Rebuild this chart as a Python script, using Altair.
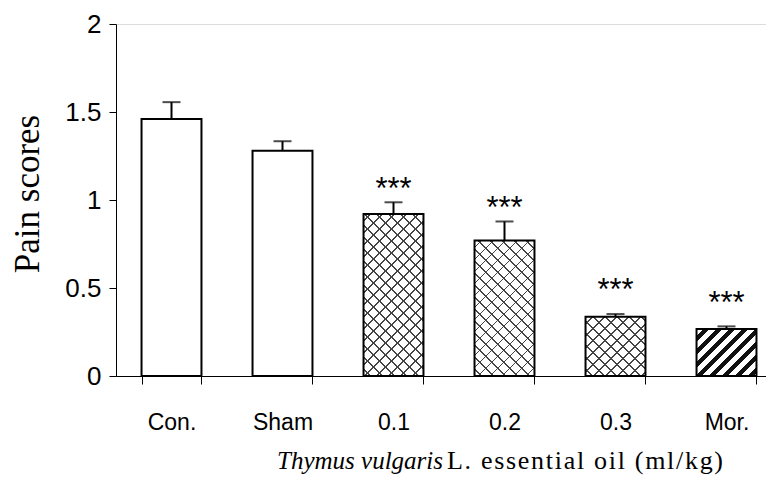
import altair as alt
import pandas as pd

# ---- data ----
categories = ["Con.", "Sham", "0.1", "0.2", "0.3", "Mor."]
means = [1.46, 1.28, 0.92, 0.77, 0.337, 0.267]
sems = [0.096, 0.054, 0.067, 0.108, 0.015, 0.015]
patterns = ["plain", "plain", "cross", "cross", "cross", "stripe"]
stars = ["", "", "***", "***", "***", "***"]
star_levels = [None, None, 1.104, 0.994, 0.528, 0.456]

df = pd.DataFrame({
    "cat": categories,
    "mean": means,
    "top": [m + s for m, s in zip(means, sems)],
    "pattern": patterns,
    "star": stars,
    "star_y": star_levels,
})

# ---- geometry / style ----
PLOT_W = 650
PLOT_H = 352
RANGE_W = 666
PAD_IN = 0.46
PAD_OUT = 0.23
Y_MAX = 2.0
STEP = RANGE_W / (len(categories) - PAD_IN + 2 * PAD_OUT)
BAR_W = STEP * (1 - PAD_IN)

SANS = "Liberation Sans"
SERIF = "Liberation Serif"

x_enc = alt.X(
    "cat:N",
    sort=categories,
    scale=alt.Scale(range=[0, RANGE_W], paddingInner=PAD_IN, paddingOuter=PAD_OUT),
    axis=alt.Axis(
        title=None, labelAngle=0, labelFont=SANS, labelFontSize=23, labelColor="black",
        labelPadding=27, tickBand="extent", tickSize=8, tickColor="black", tickWidth=1,
        domainColor="black", domainWidth=1, grid=False,
    ),
)
y_scale = alt.Scale(domain=[0, Y_MAX], nice=False)
y_axis = alt.Axis(
    title=None, values=[0, 0.5, 1, 1.5, 2], format="~g", labelFont=SANS, labelFontSize=26,
    labelColor="black", labelPadding=8, tickSize=7, tickColor="black", tickWidth=1,
    domainColor="black", domainWidth=1, grid=False,
)


def hatch(W, H, period, lw, color, bg, direction):
    L = W + H
    alpha = L / (W * W + H * H)
    a, b = alpha * W, alpha * H
    if direction == "/":
        x1, y1, x2, y2 = 0, 0, a, b
    else:
        x1, y1, x2, y2 = 0, 1, a, 1 - b
    stops = [alt.GradientStop(color=bg, offset=0)]
    s = period / 2.0
    while s + lw < L:
        o1, o2 = s / L, (s + lw) / L
        stops += [
            alt.GradientStop(color=bg, offset=o1),
            alt.GradientStop(color=color, offset=o1),
            alt.GradientStop(color=color, offset=o2),
            alt.GradientStop(color=bg, offset=o2),
        ]
        s += period
    stops.append(alt.GradientStop(color=bg, offset=1))
    return alt.LinearGradient(gradient="linear", stops=stops, x1=x1, y1=y1, x2=x2, y2=y2)


base = alt.Chart(df)
bar_enc = dict(x=x_enc, y=alt.Y("mean:Q", scale=y_scale, axis=y_axis))

layers = [base.mark_bar(fill="white", strokeWidth=0).encode(**bar_enc)]

for cat, m, pat in zip(categories, means, patterns):
    H = m / Y_MAX * PLOT_H
    sub = base.transform_filter(alt.datum.cat == cat)
    if pat == "cross":
        for d in ["/", "\\"]:
            g = hatch(BAR_W, H, 12, 1.8, "#444444", "rgba(255,255,255,0)", d)
            layers.append(sub.mark_bar(fill=g, strokeWidth=0).encode(**bar_enc))
    elif pat == "stripe":
        g = hatch(BAR_W, H, 13, 6, "#111111", "rgba(255,255,255,0)", "/")
        layers.append(sub.mark_bar(fill=g, strokeWidth=0).encode(**bar_enc))

layers.append(
    base.mark_bar(fillOpacity=0, stroke="black", strokeWidth=2).encode(**bar_enc)
)
layers.append(
    base.mark_rule(color="black", strokeWidth=2).encode(
        x=x_enc, y=alt.Y("mean:Q", scale=y_scale, axis=y_axis), y2="top:Q"
    )
)
layers.append(
    base.mark_tick(color="black", size=18, thickness=2).encode(
        x=x_enc, y=alt.Y("top:Q", scale=y_scale, axis=y_axis)
    )
)
layers.append(
    base.transform_filter("datum.star != ''").mark_text(
        font=SANS, fontSize=31, color="black", baseline="alphabetic", dy=17
    ).encode(x=x_enc, y=alt.Y("star_y:Q", scale=y_scale, axis=y_axis), text="star:N")
)

# ---- axis titles ----
ytitle = alt.Chart(pd.DataFrame({"t": ["Pain scores"]})).mark_text(
    font=SERIF, fontSize=35, angle=270, align="center", baseline="middle", color="black"
).encode(x=alt.value(-88), y=alt.value(170), text="t:N")

TITLE_FS = 26
TITLE_BASE = 445  # baseline, plot coordinates
italic_part = "Thymus vulgaris"
italic_x = 161
regular_part = "L. essential oil (ml/kg)"
regular_span = (331, 607)  # horizontal extent in the reference (plot coords)

# Times advance widths (per 1000 em), used to spread the letters evenly
TIMES_W = {"L": 611, ".": 250, " ": 250, "e": 444, "s": 389, "n": 500, "t": 278,
           "i": 278, "a": 444, "l": 278, "o": 500, "(": 333, "m": 778, "/": 278,
           "k": 500, "g": 500, ")": 333}

adv = [TIMES_W[c] * TITLE_FS / 1000 for c in regular_part]
sp = (regular_span[1] - regular_span[0] - sum(adv)) / (len(regular_part) - 1)
char_rows = []
pos = regular_span[0]
for c, a in zip(regular_part, adv):
    if c != " ":
        char_rows.append({"c": c, "px": pos})
    pos += a + sp

xt1 = alt.Chart(pd.DataFrame({"t": [italic_part]})).mark_text(
    font=SERIF, fontSize=25, fontStyle="italic", align="left", baseline="alphabetic",
    color="black"
).encode(x=alt.value(italic_x), y=alt.value(TITLE_BASE), text="t:N")

xt2 = alt.Chart(pd.DataFrame(char_rows)).mark_text(
    font=SERIF, fontSize=TITLE_FS, align="left", baseline="alphabetic", color="black"
).encode(
    x=alt.X("px:Q", scale=None, axis=None),
    y=alt.value(TITLE_BASE),
    text="c:N",
)

chart = alt.layer(*layers, ytitle, xt1, xt2).properties(
    width=PLOT_W,
    height=PLOT_H,
    autosize=alt.AutoSizeParams(type="none"),
    padding={"left": 108, "top": 16, "right": 0, "bottom": 99},
).configure_view(stroke=None).configure(background="white")

chart.save("out.html", embed_options={"renderer": "svg", "actions": False})
